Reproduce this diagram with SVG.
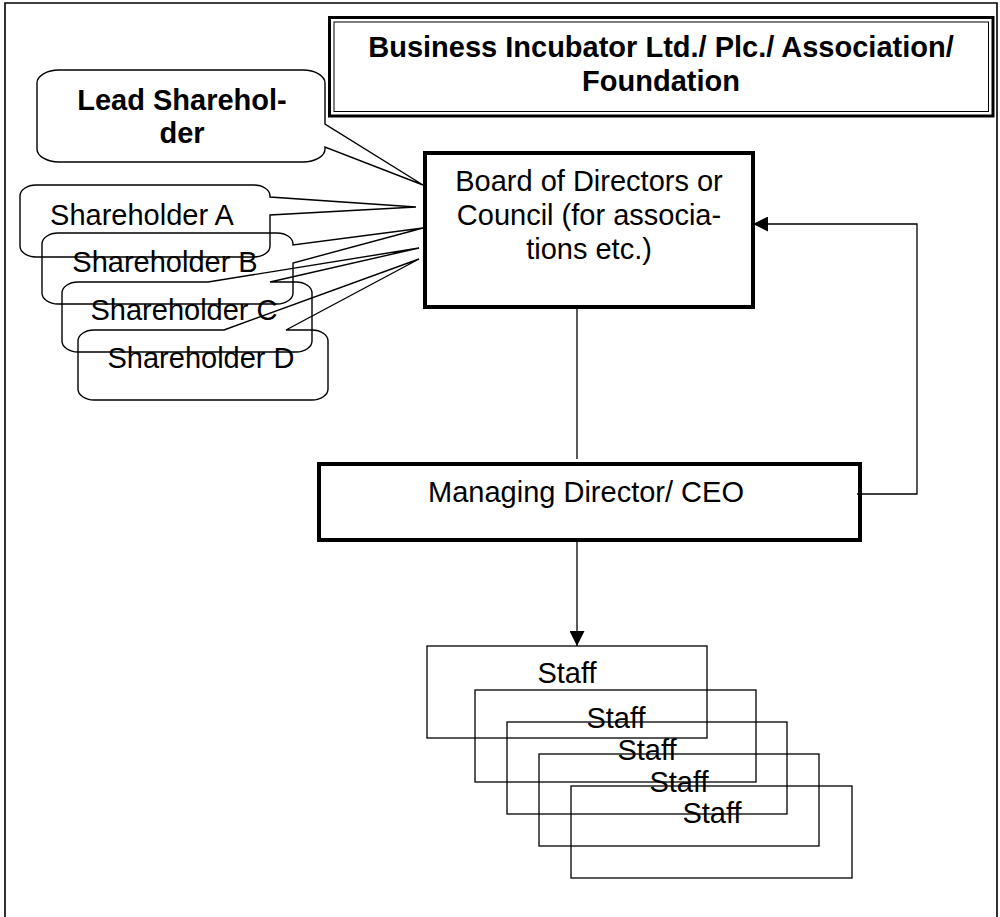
<svg xmlns="http://www.w3.org/2000/svg" width="1000" height="917" viewBox="0 0 1000 917">
<style>
text{font-family:"Liberation Sans",Arial,sans-serif;font-size:29px;fill:#000;text-anchor:middle}
.b{font-weight:bold}
.thin{fill:none;stroke:#000;stroke-width:1.3}
.thick{fill:none;stroke:#000;stroke-width:4}
.callout{fill:none;stroke:#000;stroke-width:1.4;stroke-linejoin:miter}
.conn{fill:none;stroke:#000;stroke-width:1.3}
</style>
<defs>
<marker id="ah" markerUnits="userSpaceOnUse" markerWidth="15" markerHeight="15" viewBox="0 0 15 15" refX="15" refY="7.5" orient="auto"><path d="M0,0 L15,7.5 L0,15 Z" fill="#000"/></marker>
</defs>
<rect width="1000" height="917" fill="#fff"/>
<path d="M5,925 V3 H997 V925" fill="none" stroke="#000" stroke-width="1.6"/>

<g id="title">
<rect x="329.5" y="17.5" width="663.5" height="98.5" fill="none" stroke="#000" stroke-width="3"/>
<rect x="334" y="22" width="654.5" height="89.5" fill="none" stroke="#000" stroke-width="1"/>
<text class="b" x="661" y="57">Business Incubator Ltd./ Plc./ Association/</text>
<text class="b" x="661" y="91">Foundation</text>
</g>

<g id="lead-shareholder">
<path class="callout" d="M59,70 H303 A22,13 0 0 1 325,83 V124 L423,185 L325,147 V149 A22,13 0 0 1 303,162 H59 A22,13 0 0 1 37,149 V83 A22,13 0 0 1 59,70 Z"/>
<text class="b" x="182" y="110">Lead Sharehol-</text>
<text class="b" x="182" y="143">der</text>
</g>

<g id="shareholder-a">
<path class="callout" d="M36,185 H254 A16,11 0 0 1 270,196 V197 L416,207 L270,215 V246 A16,11 0 0 1 254,257 H36 A16,11 0 0 1 20,246 V196 A16,11 0 0 1 36,185 Z"/>
<text x="142" y="225">Shareholder A</text>
</g>

<g id="shareholder-b">
<path class="callout" d="M58,233 H277 A16,11 0 0 1 293,244 V245 L423,228 L293,263 V293 A16,11 0 0 1 277,304 H58 A16,11 0 0 1 42,293 V244 A16,11 0 0 1 58,233 Z"/>
<text x="165" y="272">Shareholder B</text>
</g>

<g id="shareholder-c">
<path class="callout" d="M78,282 H208 L419,248 L270,282 H296 A16,11 0 0 1 312,293 V341 A16,11 0 0 1 296,352 H78 A16,11 0 0 1 62,341 V293 A16,11 0 0 1 78,282 Z"/>
<text x="184" y="320">Shareholder C</text>
</g>

<g id="shareholder-d">
<path class="callout" d="M94,330 H224 L419,259 L286,330 H312 A16,11 0 0 1 328,341 V389 A16,11 0 0 1 312,400 H94 A16,11 0 0 1 78,389 V341 A16,11 0 0 1 94,330 Z"/>
<text x="201" y="368">Shareholder D</text>
</g>

<g id="board">
<rect class="thick" x="425" y="153" width="328" height="154"/>
<text x="589" y="191">Board of Directors or</text>
<text x="589" y="225">Council (for associa-</text>
<text x="589" y="259">tions etc.)</text>
</g>

<g id="ceo">
<rect class="thick" x="319" y="464" width="541" height="76"/>
<text x="586" y="502">Managing Director/ CEO</text>
</g>

<g id="staff-1">
<rect class="thin" x="427" y="646" width="280" height="92"/>
<text x="567" y="683">Staff</text>
</g>
<g id="staff-2">
<rect class="thin" x="475" y="690" width="281" height="92"/>
<text x="616" y="728">Staff</text>
</g>
<g id="staff-3">
<rect class="thin" x="507" y="722" width="280" height="92"/>
<text x="647" y="760">Staff</text>
</g>
<g id="staff-4">
<rect class="thin" x="539" y="754" width="280" height="92"/>
<text x="679" y="792">Staff</text>
</g>
<g id="staff-5">
<rect class="thin" x="571" y="786" width="281" height="92"/>
<text x="712" y="823">Staff</text>
</g>

<g id="connectors">
<path class="conn" d="M577,307 V459"/>
<path class="conn" d="M857,494 H917 V224 H753" marker-end="url(#ah)"/>
<path class="conn" d="M577,542 V646" stroke-width="2" marker-end="url(#ah)"/>
</g>
</svg>
